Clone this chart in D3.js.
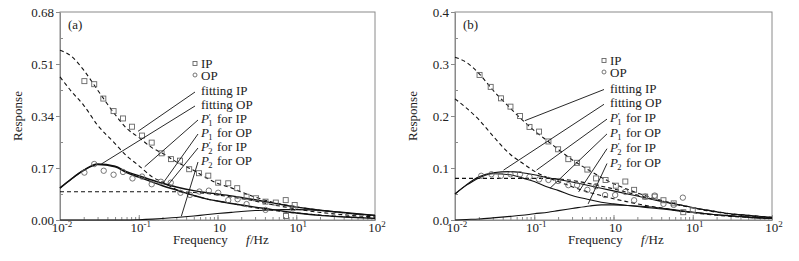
<!DOCTYPE html>
<html>
<head>
<meta charset="utf-8">
<script src="https://cdn.jsdelivr.net/npm/d3@7"></script>
<style>
  body { margin: 0; background: #fff; }
  text { font-family: "Liberation Serif", "Times New Roman", serif; fill: #222; }
</style>
</head>
<body>
<svg width="799" height="261"></svg>
<script>
// ---- shared axis data ----
const freqTicks = [0.01, 0.1, 1, 10, 100];
const freqTickExp = ["-2", "-1", "", "1", "2"]; // printed as 10^-2, 10^-1, 10, 10^1, 10^2

// frequency grid (Hz) the fitted curves were read at
const curveFreq = [0.01, 0.014, 0.02, 0.03, 0.05, 0.07, 0.1, 0.15, 0.2, 0.3, 0.5, 0.7,
  1, 1.5, 2, 3, 5, 7, 10, 15, 20, 30, 50, 100];

const legendNames = ["fitting IP", "fitting OP", "P'1 for IP", "P1 for OP", "P'2 for IP", "P2 for OP"];

// ---- panel (a) ----
const aYTicks = [0, 0.17, 0.34, 0.51, 0.68];
const aYMinor = [0.085, 0.255, 0.425, 0.595];
const aIpFreq = [0.0204, 0.0272, 0.0355, 0.0479, 0.0631, 0.082, 0.110, 0.146, 0.195, 0.257, 0.334, 0.437,
  0.582, 0.764, 1.02, 1.37, 1.78, 2.34, 3.09, 4.07, 5.50, 7.35, 9.55, 7.41];
const aIpVal = [0.454, 0.444, 0.397, 0.356, 0.332, 0.305, 0.276, 0.253, 0.218, 0.199, 0.194, 0.166,
  0.153, 0.145, 0.122, 0.120, 0.104, 0.076, 0.071, 0.060, 0.057, 0.065, 0.049, 0.013];
const aOpFreq = [0.0204, 0.0272, 0.0359, 0.0479, 0.0631, 0.0832, 0.110, 0.146, 0.191, 0.255, 0.339, 0.447,
  0.589, 0.776, 1.02, 1.37, 1.80, 2.34, 4.07, 9.12];
const aOpVal = [0.155, 0.183, 0.161, 0.148, 0.157, 0.136, 0.142, 0.117, 0.125, 0.122, 0.089, 0.082,
  0.093, 0.096, 0.089, 0.065, 0.068, 0.052, 0.033, 0.038];
const aFitIP = [0.555, 0.535, 0.49, 0.425, 0.345, 0.30, 0.27, 0.235, 0.218, 0.19, 0.162, 0.14,
  0.12, 0.105, 0.092, 0.075, 0.058, 0.05, 0.043, 0.036, 0.032, 0.027, 0.021, 0.013];
const aFitOP = [0.105, 0.135, 0.163, 0.183, 0.176, 0.158, 0.145, 0.13, 0.12, 0.108, 0.096, 0.09,
  0.085, 0.079, 0.074, 0.066, 0.056, 0.049, 0.042, 0.036, 0.032, 0.027, 0.021, 0.015];
const aP1IP = [0.468, 0.42, 0.375, 0.31, 0.25, 0.21, 0.178, 0.14, 0.124, 0.10, 0.08, 0.07,
  0.062, 0.054, 0.048, 0.04, 0.032, 0.027, 0.023, 0.019, 0.016, 0.013, 0.01, 0.007];
const aP1OP = [0.104, 0.134, 0.162, 0.181, 0.174, 0.155, 0.14, 0.124, 0.112, 0.098, 0.08, 0.07,
  0.062, 0.054, 0.049, 0.042, 0.034, 0.028, 0.023, 0.018, 0.015, 0.012, 0.009, 0.005];
const aP2IP = [0.0925, 0.0925, 0.0925, 0.0925, 0.0925, 0.0925, 0.0925, 0.0925, 0.0925, 0.0925, 0.09, 0.087,
  0.082, 0.075, 0.07, 0.062, 0.05, 0.043, 0.036, 0.029, 0.025, 0.02, 0.015, 0.01];
const aP2OP = [0, 0, 0, 0, 0, 0, 0.001, 0.003, 0.005, 0.008, 0.013, 0.017,
  0.021, 0.025, 0.028, 0.031, 0.033, 0.034, 0.034, 0.033, 0.031, 0.028, 0.023, 0.015];
const aLeadFreq = [0.098, 0.0335, 0.119, 0.204, 0.234, 0.347];
const aLeadVal = [0.29, 0.183, 0.174, 0.121, 0.114, 0.012];

// ---- panel (b) ----
const bYTicks = [0, 0.1, 0.2, 0.3, 0.4];
const bYMinor = [0.05, 0.15, 0.25, 0.35];
const bIpFreq = [0.0204, 0.0282, 0.038, 0.0501, 0.0661, 0.0871, 0.115, 0.151, 0.200, 0.269, 0.347, 0.468,
  0.603, 0.794, 1.07, 1.41, 1.82, 2.51, 3.31, 4.27, 5.75, 7.59, 10];
const bIpVal = [0.279, 0.256, 0.234, 0.218, 0.200, 0.179, 0.170, 0.151, 0.136, 0.117, 0.110, 0.097,
  0.080, 0.077, 0.066, 0.074, 0.058, 0.045, 0.045, 0.038, 0.032, 0.015, 0.019];
const bOpFreq = [0.0214, 0.0288, 0.038, 0.0501, 0.0661, 0.0871, 0.115, 0.151, 0.2, 0.269, 0.347, 0.468,
  0.603, 0.783, 1.05, 1.41, 1.82, 2.51, 3.31, 4.27, 5.75, 7.5];
const bOpVal = [0.085, 0.088, 0.085, 0.088, 0.088, 0.083, 0.078, 0.077, 0.075, 0.067, 0.067, 0.058,
  0.065, 0.048, 0.048, 0.054, 0.038, 0.045, 0.047, 0.031, 0.029, 0.043];
const bFitIP = [0.313, 0.303, 0.282, 0.25, 0.215, 0.193, 0.172, 0.151, 0.136, 0.116, 0.095, 0.082,
  0.07, 0.059, 0.052, 0.043, 0.034, 0.029, 0.024, 0.019, 0.016, 0.012, 0.009, 0.005];
const bFitOP = [0.05, 0.068, 0.083, 0.091, 0.093, 0.091, 0.087, 0.081, 0.078, 0.073, 0.066, 0.061,
  0.056, 0.05, 0.046, 0.04, 0.033, 0.029, 0.024, 0.019, 0.016, 0.012, 0.009, 0.005];
const bP1IP = [0.233, 0.215, 0.193, 0.162, 0.126, 0.11, 0.094, 0.081, 0.074, 0.064, 0.053, 0.047,
  0.041, 0.035, 0.031, 0.026, 0.021, 0.017, 0.014, 0.011, 0.009, 0.007, 0.005, 0.003];
const bP1OP = [0.05, 0.067, 0.081, 0.089, 0.087, 0.081, 0.074, 0.063, 0.057, 0.047, 0.039, 0.034,
  0.031, 0.028, 0.026, 0.023, 0.02, 0.017, 0.015, 0.012, 0.01, 0.008, 0.006, 0.003];
const bP2IP = [0.08, 0.08, 0.08, 0.08, 0.08, 0.08, 0.08, 0.08, 0.079, 0.076, 0.07, 0.065,
  0.06, 0.053, 0.048, 0.041, 0.033, 0.028, 0.023, 0.018, 0.015, 0.011, 0.008, 0.004];
const bP2OP = [0, 0.001, 0.002, 0.004, 0.007, 0.009, 0.012, 0.015, 0.018, 0.022, 0.027, 0.029,
  0.029, 0.028, 0.027, 0.025, 0.021, 0.018, 0.015, 0.012, 0.01, 0.008, 0.005, 0.003];
const bLeadFreq = [0.076, 0.041, 0.107, 0.158, 0.363, 0.479];
const bLeadVal = [0.191, 0.096, 0.096, 0.061, 0.054, 0.031];

const svg = d3.select("svg");
const LINE = "#111";
const AXIS = "#8a8a8a";
const MARK = "#666";

function drawPanel(p) {
  const top = 12, bottom = 220;
  const x = d3.scaleLog().domain([0.01, 100]).range([p.left, p.right]);
  const y = d3.scaleLinear().domain([0, p.yMax]).range([bottom, top]);
  const g = svg.append("g");

  // frame
  g.append("rect")
    .attr("x", p.left).attr("y", top)
    .attr("width", p.right - p.left).attr("height", bottom - top)
    .attr("fill", "none").attr("stroke", AXIS).attr("stroke-width", 1);

  // y axis
  g.append("g")
    .attr("transform", `translate(${p.left},0)`)
    .call(d3.axisLeft(y).tickValues(p.yTicks).tickFormat(d3.format(p.yFmt)).tickSize(4).tickSizeOuter(0).tickPadding(2))
    .call((a) => {
      a.select(".domain").attr("stroke", AXIS);
      a.selectAll(".tick line").attr("stroke", AXIS);
      a.selectAll(".tick text").attr("font-size", 13).attr("font-family", null).attr("fill", "#333");
    });
  g.append("g")
    .attr("transform", `translate(${p.left},0)`)
    .call(d3.axisLeft(y).tickValues(p.yMinor).tickFormat("").tickSize(-3).tickSizeOuter(0))
    .call((a) => {
      a.select(".domain").remove();
      a.selectAll(".tick line").attr("stroke", AXIS);
    });

  // x axis: minor ticks inward, major a bit longer
  const allTicks = x.ticks();
  g.append("g")
    .attr("transform", `translate(0,${bottom})`)
    .call(d3.axisBottom(x).tickValues(allTicks).tickFormat("").tickSize(-3).tickSizeOuter(0))
    .call((a) => {
      a.select(".domain").attr("stroke", AXIS);
      a.selectAll(".tick line").attr("stroke", AXIS);
    });
  g.append("g")
    .attr("transform", `translate(0,${bottom})`)
    .call(d3.axisBottom(x).tickValues(freqTicks).tickFormat("").tickSize(-5).tickSizeOuter(0))
    .call((a) => {
      a.select(".domain").remove();
      a.selectAll(".tick line").attr("stroke", AXIS);
    });
  const xl = g.selectAll(".xlab").data(freqTicks).enter().append("text")
    .attr("class", "xlab")
    .attr("x", (d) => x(d) + 2)
    .attr("y", 232)
    .attr("text-anchor", "middle")
    .attr("font-size", 13)
    .attr("fill", "#333");
  xl.append("tspan").text("10");
  xl.append("tspan")
    .attr("dy", -5)
    .attr("font-size", 9)
    .text((d, i) => freqTickExp[i]);

  // axis titles
  g.append("text")
    .attr("transform", `translate(${p.left - 38},${116}) rotate(-90)`)
    .attr("text-anchor", "middle")
    .attr("font-size", 13)
    .text("Response");
  g.append("text").attr("x", p.left + 113).attr("y", 244).attr("font-size", 13).text("Frequency");
  g.append("text").attr("x", p.left + 186).attr("y", 244).attr("font-size", 13)
    .attr("font-style", "italic").text("f");
  g.append("text").attr("x", p.left + 190).attr("y", 244).attr("font-size", 13).text("/Hz");
  g.append("text").attr("x", p.left + 8).attr("y", 29).attr("font-size", 13).text(p.tag);

  // curves
  const line = d3.line()
    .x((d) => x(d[0]))
    .y((d) => y(d[1]))
    .curve(d3.curveMonotoneX);
  p.curves.forEach((c) => {
    g.append("path")
      .datum(curveFreq.map((f, i) => [f, c.vals[i]]))
      .attr("d", line)
      .attr("fill", "none")
      .attr("stroke", LINE)
      .attr("stroke-width", c.w || 1.1)
      .attr("stroke-dasharray", c.dash ? "4,3" : null);
  });

  // data points
  g.selectAll(".ip").data(p.ipFreq).enter().append("rect")
    .attr("class", "ip")
    .attr("x", (d) => x(d) - 2.5)
    .attr("y", (d, i) => y(p.ipVal[i]) - 2.5)
    .attr("width", 5).attr("height", 5)
    .attr("fill", "none").attr("stroke", MARK).attr("stroke-width", 0.9);
  g.selectAll(".op").data(p.opFreq).enter().append("circle")
    .attr("class", "op")
    .attr("cx", (d) => x(d))
    .attr("cy", (d, i) => y(p.opVal[i]))
    .attr("r", 2.7)
    .attr("fill", "none").attr("stroke", MARK).attr("stroke-width", 0.9);

  // legend: markers
  const lx = p.legX;
  g.append("rect").attr("x", lx - 8).attr("y", p.legIP - 6.5).attr("width", 4).attr("height", 4)
    .attr("fill", "none").attr("stroke", MARK).attr("stroke-width", 0.9);
  g.append("text").attr("x", lx).attr("y", p.legIP).attr("font-size", 13).text("IP");
  g.append("circle").attr("cx", lx - 6).attr("cy", p.legOP - 4.5).attr("r", 2)
    .attr("fill", "none").attr("stroke", MARK).attr("stroke-width", 0.9);
  g.append("text").attr("x", lx).attr("y", p.legOP).attr("font-size", 13).text("OP");

  // legend rows with leader lines
  legendNames.forEach((name, i) => {
    const by = p.row0 + i * p.rowStep;
    const isP = name[0] === "P";
    g.append("line")
      .attr("x1", lx - (isP ? 3 : 6)).attr("y1", by - 3)
      .attr("x2", x(p.leadFreq[i])).attr("y2", y(p.leadVal[i]))
      .attr("stroke", LINE).attr("stroke-width", 0.9);
    const t = g.append("text").attr("x", lx).attr("y", by).attr("font-size", 13);
    if (!isP) {
      t.text(name);
    } else {
      const prime = name[1] === "'";
      const sub = prime ? name[2] : name[1];
      const rest = name.slice(prime ? 3 : 2).trim();
      t.append("tspan").attr("font-style", "italic").text("P");
      if (prime) {
        t.append("tspan").attr("x", lx + 7.8).attr("y", by - 3).attr("font-size", 9).text("\u2032");
      }
      t.append("tspan").attr("x", lx + 7.2).attr("y", by + 3).attr("font-size", 8.5).text(sub);
      t.append("tspan").attr("x", lx + 16).attr("y", by).text(rest);
    }
  });
}

drawPanel({
  left: 60, right: 375, yMax: 0.68, yTicks: aYTicks, yMinor: aYMinor, yFmt: ".2f", tag: "(a)",
  ipFreq: aIpFreq, ipVal: aIpVal, opFreq: aOpFreq, opVal: aOpVal,
  curves: [
    { vals: aFitIP, dash: true }, { vals: aP1IP, dash: true }, { vals: aP2IP, dash: true },
    { vals: aFitOP, dash: false, w: 1.4 }, { vals: aP1OP, dash: false, w: 1.4 }, { vals: aP2OP, dash: false }
  ],
  legX: 201, legIP: 68, legOP: 79.5, row0: 95, rowStep: 14,
  leadFreq: aLeadFreq, leadVal: aLeadVal
});

drawPanel({
  left: 455, right: 772, yMax: 0.4, yTicks: bYTicks, yMinor: bYMinor, yFmt: ".1f", tag: "(b)",
  ipFreq: bIpFreq, ipVal: bIpVal, opFreq: bOpFreq, opVal: bOpVal,
  curves: [
    { vals: bFitIP, dash: true }, { vals: bP1IP, dash: true }, { vals: bP2IP, dash: true },
    { vals: bFitOP, dash: false }, { vals: bP1OP, dash: false }, { vals: bP2OP, dash: false }
  ],
  legX: 610, legIP: 65, legOP: 76.5, row0: 92.5, rowStep: 14.8,
  leadFreq: bLeadFreq, leadVal: bLeadVal
});
</script>
</body>
</html>
